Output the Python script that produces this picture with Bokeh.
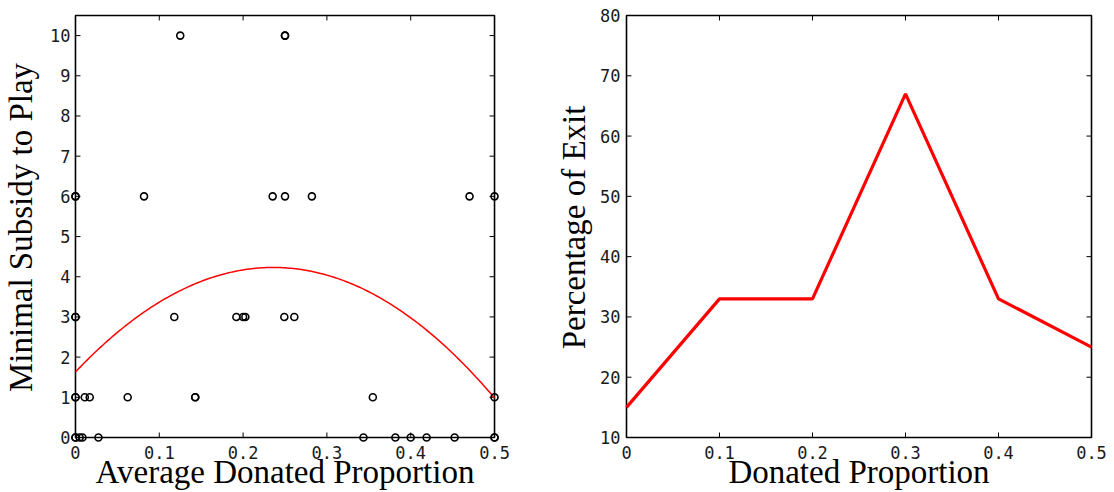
import numpy as np
from bokeh.plotting import figure
from bokeh.layouts import row
from bokeh.models import Range1d, FixedTicker
from bokeh.embed import file_html
from bokeh.resources import INLINE

# ---- left panel data: scatter of subsidy vs. average donated proportion ----
sub_x = [0.125, 0.25, 0.25,
         0.0, 0.0, 0.0818, 0.2353, 0.25, 0.2821, 0.4702, 0.5,
         0.0, 0.0, 0.1179, 0.192, 0.2, 0.2027, 0.2492, 0.2611,
         0.0, 0.0, 0.0111, 0.017, 0.0623, 0.1429, 0.1429, 0.3548, 0.5,
         0.0, 0.0, 0.005, 0.0083, 0.0274, 0.3436, 0.3817, 0.4, 0.419, 0.4524, 0.5, 0.5]
sub_y = [10, 10, 10,
         6, 6, 6, 6, 6, 6, 6, 6,
         3, 3, 3, 3, 3, 3, 3, 3,
         1, 1, 1, 1, 1, 1, 1, 1, 1,
         0, 0, 0, 0, 0, 0, 0, 0, 0, 0, 0, 0]
# quadratic fit (a*x^2 + b*x + c)
fit_coeffs = [-46.65, 22.03, 1.63]

x_ticks = [0, 0.1, 0.2, 0.3, 0.4, 0.5]
x_tick_labels = ["0", "0.1", "0.2", "0.3", "0.4", "0.5"]
left_yticks = [0, 1, 2, 3, 4, 5, 6, 7, 8, 9, 10]
left_xlim = (0.0, 0.5)
left_ylim = (0.0, 10.5)

# ---- right panel data: percentage of exit vs donated proportion ----
prop_x = [0.0, 0.1, 0.2, 0.3, 0.4, 0.5]
exit_pct = [15, 33, 33, 67, 33, 25]
right_yticks = [10, 20, 30, 40, 50, 60, 70, 80]
right_xlim = (0.0, 0.5)
right_ylim = (10, 80)

TICK_FONT = "DejaVu Sans Mono"
LABEL_FONT = "Liberation Serif"
TICK_LEN = 5

# box geometry in pixels; the frame is padded around the data box so that
# markers sitting on the box edge are not cut by the frame clip
BOX_H = 422
PAD_T, PAD_B = 4, 6


def padded(lim, box_px, pad_lo, pad_hi):
    u = (lim[1] - lim[0]) / box_px
    return Range1d(lim[0] - pad_lo * u, lim[1] + pad_hi * u)


def style_axis(ax, label_standoff, axis_label_standoff):
    ax.major_tick_in = 0
    ax.major_tick_out = 0
    ax.minor_tick_in = 0
    ax.minor_tick_out = 0
    ax.axis_line_color = None
    ax.major_tick_line_color = None
    ax.major_label_text_font = TICK_FONT
    ax.major_label_text_font_size = "17px"
    ax.major_label_text_color = "#1a1a1a"
    ax.major_label_standoff = label_standoff
    ax.axis_label_text_font = LABEL_FONT
    ax.axis_label_text_font_size = "33px"
    ax.axis_label_text_font_style = "normal"
    ax.axis_label_text_color = "black"
    ax.axis_label_standoff = axis_label_standoff


def draw_box(p, xticks, yticks, xlim, ylim):
    p.quad(left=[xlim[0]], right=[xlim[1]], bottom=[ylim[0]], top=[ylim[1]],
           fill_color=None, line_color="black", line_width=1.6)
    n, m = len(xticks), len(yticks)
    p.ray(x=list(xticks), y=[ylim[1]] * n, length=TICK_LEN, length_units="screen",
          angle=-np.pi / 2, line_color="black", line_width=1)
    p.ray(x=list(xticks), y=[ylim[0]] * n, length=TICK_LEN, length_units="screen",
          angle=np.pi / 2, line_color="black", line_width=1)
    p.ray(x=[xlim[1]] * m, y=list(yticks), length=TICK_LEN, length_units="screen",
          angle=np.pi, line_color="black", line_width=1)
    p.ray(x=[xlim[0]] * m, y=list(yticks), length=TICK_LEN, length_units="screen",
          angle=0, line_color="black", line_width=1)


def make_fig(width, box_w, pad_l, pad_r, border_l, xlim, ylim, xticks, yticks,
             xlabel, ylabel, ytick_standoff, ylabel_standoff):
    p = figure(width=width, height=492, output_backend="svg", toolbar_location=None,
               x_range=padded(xlim, box_w, pad_l, pad_r),
               y_range=padded(ylim, BOX_H, PAD_B, PAD_T),
               min_border_left=border_l, min_border_right=width - border_l - box_w - pad_l - pad_r,
               min_border_top=11, min_border_bottom=49)
    p.grid.visible = False
    p.outline_line_color = None
    p.xaxis.ticker = FixedTicker(ticks=xticks)
    p.yaxis.ticker = FixedTicker(ticks=yticks)
    p.xaxis.major_label_overrides = {t: l for t, l in zip(xticks, x_tick_labels)}
    p.xaxis.axis_label = xlabel
    p.yaxis.axis_label = ylabel
    style_axis(p.xaxis[0], 2, -8)
    style_axis(p.yaxis[0], ytick_standoff, ylabel_standoff)
    draw_box(p, xticks, yticks, xlim, ylim)
    return p


# ---------------- left figure ----------------
p1 = make_fig(553, 420, 10, 10, 64, left_xlim, left_ylim, x_ticks, left_yticks,
              "Average Donated Proportion", "Minimal Subsidy to Play", -5, 8)
fit_x = np.linspace(left_xlim[0], left_xlim[1], 201)
fit_y = np.polyval(fit_coeffs, fit_x)
p1.line(fit_x, fit_y, line_color="#ff0000", line_width=1.5)
p1.scatter(sub_x, sub_y, marker="circle", size=7, fill_color=None,
           line_color="black", line_width=1.6)

# ---------------- right figure ----------------
p2 = make_fig(561, 466, 2, 2, 70, right_xlim, right_ylim, x_ticks, right_yticks,
              "Donated Proportion", "Percentage of Exit", 4, 5)
p2.line(prop_x, exit_pct, line_color="#ff0000", line_width=3.2)

layout = row(p1, p2)
open("out.html", "w").write(file_html(layout, INLINE))
